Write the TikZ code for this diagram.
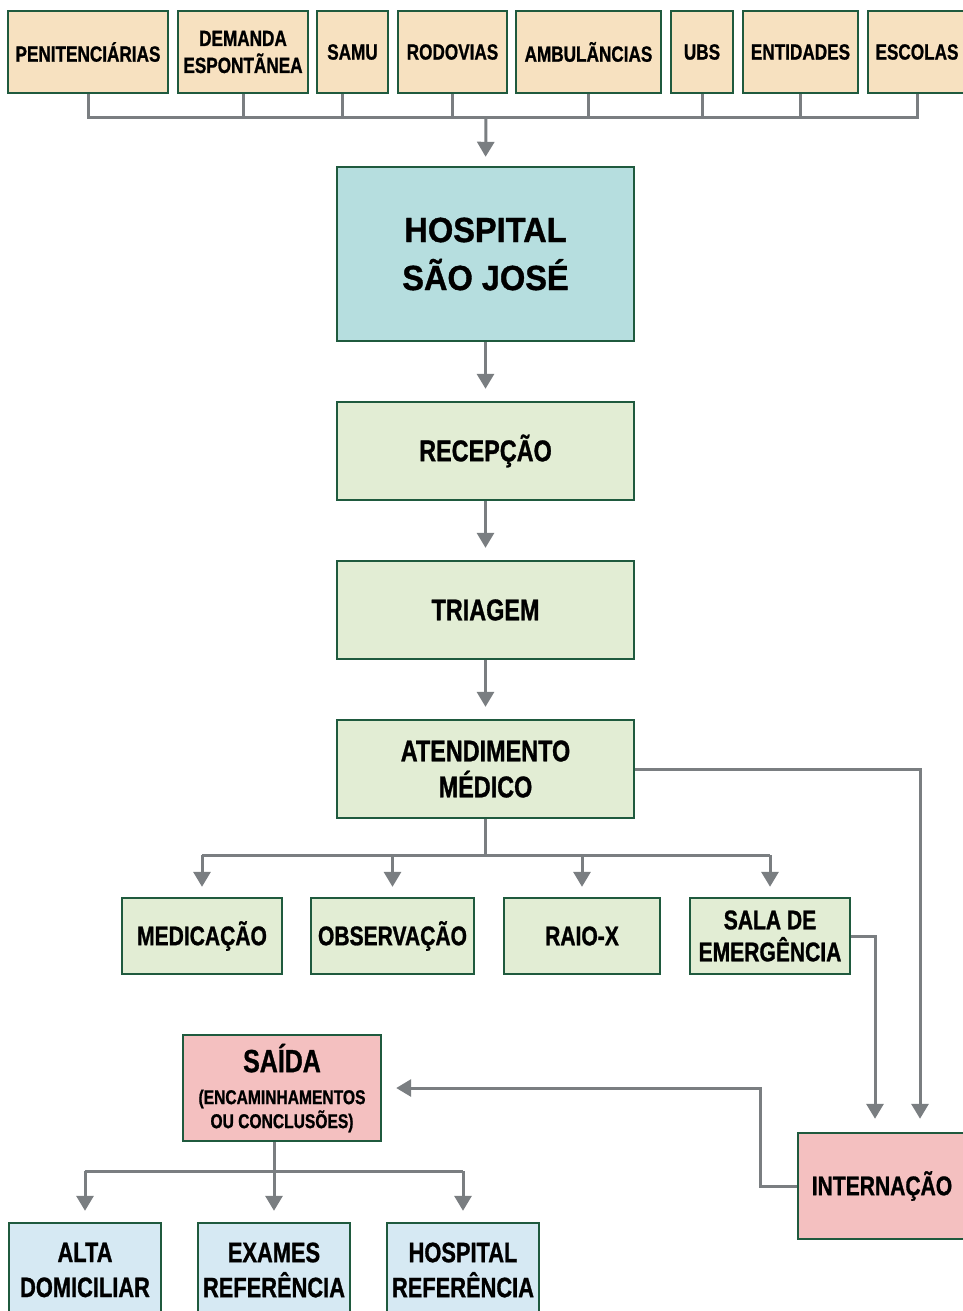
\documentclass[tikz,border=0pt]{standalone}
\usepackage{fontspec}
\setmainfont{Liberation Sans}[FakeStretch=0.78,FakeBold=1]
\newfontfamily\largo{Liberation Sans}[FakeStretch=0.93,FakeBold=1]
\usetikzlibrary{arrows.meta,positioning}
\definecolor{borda}{HTML}{1F5A3E}
\definecolor{pessego}{HTML}{F7E1C0}
\definecolor{agua}{HTML}{B6DEDF}
\definecolor{verdec}{HTML}{E2EDD4}
\definecolor{rosa}{HTML}{F4C0C0}
\definecolor{azulc}{HTML}{D6E9F3}
\definecolor{cinza}{HTML}{7A7E81}
\tikzset{
  box/.style={rectangle, draw=borda, line width=1.2pt, inner sep=0pt, align=center},
  orig/.style={box, fill=pessego, minimum height=41pt, font=\bfseries\fontsize{11}{13.5}\selectfont},
  hosp/.style={box, fill=agua, minimum width=148.5pt, minimum height=87pt, font=\largo\bfseries\fontsize{17.5}{24}\selectfont},
  etapa/.style={box, fill=verdec, minimum width=148.5pt, minimum height=49pt, font=\bfseries\fontsize{15}{18}\selectfont},
  servico/.style={box, fill=verdec, minimum height=38pt, font=\bfseries\fontsize{13.5}{16}\selectfont},
  saida/.style={box, fill=rosa, minimum height=53pt, font=\bfseries\fontsize{13.5}{16}\selectfont},
  fim/.style={box, fill=azulc, minimum width=76pt, minimum height=47pt, font=\bfseries\fontsize{14}{17.5}\selectfont},
  line/.style={draw=cinza, line width=1.5pt},
  seta/.style={line, -{Triangle[width=8.5pt,length=7.5pt]}, shorten >=5pt},
}
\begin{document}
\begin{tikzpicture}[x=0.5pt,y=-0.5pt]
  \useasboundingbox (0,0) rectangle (963,1311);

  % origens
  \node[orig, minimum width=80pt]   (pen)  at (88,52)    {PENITENCIÁRIAS};
  \node[orig, minimum width=65pt]   (dem)  at (243,52)   {DEMANDA\\ESPONTÃNEA};
  \node[orig, minimum width=35.5pt] (samu) at (352.5,52) {SAMU};
  \node[orig, minimum width=54.5pt] (rod)  at (452.5,52) {RODOVIAS};
  \node[orig, minimum width=72.5pt] (amb)  at (588.5,52) {AMBULÃNCIAS};
  \node[orig, minimum width=31pt]   (ubs)  at (702,52)   {UBS};
  \node[orig, minimum width=57.5pt] (ent)  at (800.5,52) {ENTIDADES};
  \node[orig, minimum width=49pt]   (esc)  at (917,52)   {ESCOLAS};

  % fluxo central
  \node[hosp]  (hsj)   at (485.5,254) {HOSPITAL\\SÃO JOSÉ};
  \node[etapa] (rec)   at (485.5,451) {RECEPÇÃO};
  \node[etapa] (tri)   at (485.5,610) {TRIAGEM};
  \node[etapa] (atend) at (485.5,769) {ATENDIMENTO\\MÉDICO};

  \node[servico, minimum width=80pt]   (med)  at (202,936)   {MEDICAÇÃO};
  \node[servico, minimum width=81.5pt] (obs)  at (392.5,936) {OBSERVAÇÃO};
  \node[servico, minimum width=78pt]   (raio) at (582,936)   {RAIO-X};
  \node[servico, minimum width=80pt]   (sala) at (770,936)   {SALA DE\\EMERGÊNCIA};

  \node[saida, minimum width=84pt] (intern) at (882,1186) {INTERNAÇÃO};
  \node[saida, minimum width=99pt, font=\bfseries\fontsize{10}{12}\selectfont] (said) at (282,1088)
    {{\fontsize{16}{18}\selectfont SAÍDA}\\[4pt](ENCAMINHAMENTOS\\OU CONCLUSÕES)};

  \node[fim] (alta)    at (85,1270)  {ALTA\\DOMICILIAR};
  \node[fim] (exames)  at (274,1270) {EXAMES\\REFERÊNCIA};
  \node[fim] (hospref) at (463,1270) {HOSPITAL\\REFERÊNCIA};

  % conectores
  \coordinate (b1) at (486,118);
  \coordinate (b2) at (485.5,855);
  \coordinate (b3) at (274,1171);

  \draw[line] (pen.south) -- (pen.south |- b1) -- (esc.south |- b1) -- (esc.south);
  \foreach \n in {dem,rod,amb,ubs,ent}
    \draw[line] (\n.south) -- (\n.south |- b1);
  \draw[line] ([xshift=-5pt]samu.south) -- ([xshift=-5pt]samu.south |- b1);
  \draw[seta, shorten >=4.5pt] (b1) -- (hsj.north);

  \draw[seta, shorten >=6pt] (hsj) -- (rec);
  \draw[seta, shorten >=6pt] (rec) -- (tri);
  \draw[seta, shorten >=6pt] (tri) -- (atend);

  \draw[line] (atend.south) -- (b2);
  \draw[line] (med.north |- b2) -- (sala.north |- b2);
  \foreach \n in {med,obs,raio,sala}
    \draw[seta] (\n.north |- b2) -- (\n.north);

  \draw[seta, shorten >=6.5pt] (atend.east) -| ([xshift=19pt]intern.north);
  \draw[seta, shorten >=6.5pt] (sala.east) -| ([xshift=-3.5pt]intern.north);
  \draw[seta, shorten >=7pt] (intern.west) -- ++(-36,0) |- (said.east);

  \draw[line] (said.south -| exames) -- (b3);
  \draw[line] (alta.north |- b3) -- (hospref.north |- b3);
  \foreach \n in {alta,exames,hospref}
    \draw[seta, shorten >=5.5pt] (\n.north |- b3) -- (\n.north);
\end{tikzpicture}
\end{document}
